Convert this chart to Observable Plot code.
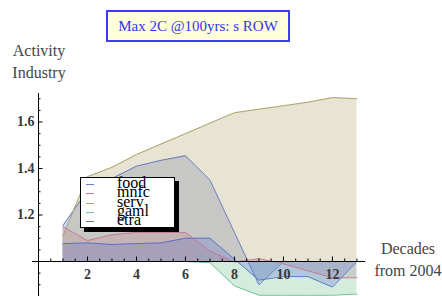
<!DOCTYPE html>
<html><head><meta charset="utf-8">
<script src="https://cdn.jsdelivr.net/npm/d3@7"></script>
<script src="https://cdn.jsdelivr.net/npm/@observablehq/plot@0.6"></script>
<style>
body{margin:0;background:#fff;}
#wrap{position:relative;width:442px;height:296px;overflow:hidden;font-family:"Liberation Serif",serif;}
.ov{position:absolute;white-space:nowrap;}
#title{left:106px;top:10px;width:184px;height:32px;box-sizing:border-box;border:2px solid #3c3cff;background:#ffffd9;color:#3434ee;font-size:15px;line-height:28px;text-align:center;}
.axl{color:#444;font-size:16px;text-align:center;line-height:22px;}
#legend{left:80px;top:177px;width:95px;height:51px;box-sizing:border-box;border:1px solid #000;background:#fff;box-shadow:4px 4px 0 #000;}
.lrow{position:absolute;left:0;height:10px;width:95px;}
.lsw{position:absolute;left:5px;top:5px;width:8px;height:1px;}
.ltx{position:absolute;left:36px;top:-5px;font-size:16px;line-height:18px;color:#000;}
</style></head><body><div id="wrap"></div>
<script>
const decades = [1,2,3,4,5,6,7,8,9,10,11,12,13];
const seriesNames = ["food","mnfc","serv","gaml","etra"];
const food = [1.155,1.305,1.357,1.41,1.435,1.455,1.35,1.125,0.90,1.0,1.0,1.0,1.0];
const mnfc = [1.15,1.09,1.115,1.125,1.125,1.125,1.045,0.997,1.012,0.99,0.96,0.93,0.93];
const serv = [1.11,1.365,1.405,1.46,1.505,1.55,1.595,1.64,1.655,1.67,1.685,1.705,1.70];
const gaml = [1.0,1.0,1.0,1.0,1.0,1.0,0.995,0.895,0.855,0.855,0.855,0.855,0.86];
const etra = [1.077,1.08,1.073,1.077,1.08,1.10,1.10,1.01,0.92,0.935,0.935,0.89,1.0];
const seriesColors = ["#6a7cc4","#c47a98","#aea46c","#6cc091","#5f73cc"];
const xMajorTicks = [2,4,6,8,10,12];
const yMajorTicks = [1.2,1.4,1.6];
const titleText = "Max 2C @100yrs: s ROW";
const yLabelLines = ["Activity","Industry"];
const xLabelLines = ["Decades","from 2004"];

const seriesValues = [food, mnfc, serv, gaml, etra];
const rows = [];
seriesNames.forEach((s, i) => decades.forEach((d, j) => rows.push({series: s, decade: d, value: seriesValues[i][j]})));

const W = 442, H = 296;
const mL = 32, mR = 77, mT = 93, mB = 0;
const xDomain = [-0.245, 13.35], yDomain = [0.8495, 1.7226];
const pxPerX = (W - mL - mR) / (xDomain[1] - xDomain[0]);
const pxPerY = (H - mT - mB) / (yDomain[1] - yDomain[0]);
const xMinor = d3.range(0.5, 13.01, 0.5).filter(v => !xMajorTicks.includes(v));
const yMinor = d3.range(0.85, 1.701, 0.05).map(v => +v.toFixed(2)).filter(v => !yMajorTicks.includes(v) && v !== 1);

const chart = Plot.plot({
  width: W, height: H,
  marginLeft: mL, marginRight: mR, marginTop: mT, marginBottom: mB,
  x: {domain: xDomain, axis: null},
  y: {domain: yDomain, axis: null},
  color: {domain: seriesNames, range: seriesColors},
  style: {background: "transparent"},
  marks: [
    Plot.areaY(rows, {x: "decade", y1: () => 1, y2: "value", z: "series", fill: "series", fillOpacity: 0.3}),
    Plot.lineY(rows, {x: "decade", y: "value", z: "series", stroke: "series", strokeWidth: 1}),
    Plot.ruleY([1], {stroke: "#000", strokeWidth: 1}),
    Plot.ruleX([0], {stroke: "#000", strokeWidth: 1}),
    Plot.ruleX(xMinor, {x: d => d, y1: () => 1, y2: () => 1 + 2.5 / pxPerY, stroke: "#000"}),
    Plot.ruleX(xMajorTicks, {x: d => d, y1: () => 1, y2: () => 1 + 4.5 / pxPerY, stroke: "#000"}),
    Plot.ruleY(yMinor, {y: d => d, x1: () => 0, x2: () => 2.5 / pxPerX, stroke: "#000"}),
    Plot.ruleY(yMajorTicks, {y: d => d, x1: () => 0, x2: () => 4.5 / pxPerX, stroke: "#000"}),
    Plot.text(xMajorTicks, {x: d => d, y: () => 1, dy: 13, text: d => String(d), fontSize: 14, fontWeight: "bold", fill: "#3a3a3a", fontFamily: "Liberation Serif"}),
    Plot.text(yMajorTicks, {x: () => 0, y: d => d, dx: -4, textAnchor: "end", text: d => d.toFixed(1), fontSize: 14, fontWeight: "bold", fill: "#3a3a3a", fontFamily: "Liberation Serif"})
  ]
});
const wrap = document.getElementById("wrap");
wrap.appendChild(chart);

const t = document.createElement("div");
t.className = "ov"; t.id = "title"; t.textContent = titleText;
wrap.appendChild(t);

const yl = document.createElement("div");
yl.className = "ov axl"; yl.style.left = "0px"; yl.style.top = "40px"; yl.style.width = "78px";
yl.innerHTML = yLabelLines.join("<br>");
wrap.appendChild(yl);

const xl = document.createElement("div");
xl.className = "ov axl"; xl.style.left = "368px"; xl.style.top = "238px"; xl.style.width = "80px";
xl.innerHTML = xLabelLines.join("<br>");
wrap.appendChild(xl);

const lg = document.createElement("div");
lg.className = "ov"; lg.id = "legend";
seriesNames.forEach((s, i) => {
  const r = document.createElement("div");
  r.className = "lrow"; r.style.top = (1 + i * 9.3) + "px";
  const sw = document.createElement("div"); sw.className = "lsw"; sw.style.background = seriesColors[i];
  const tx = document.createElement("div"); tx.className = "ltx"; tx.textContent = s;
  r.appendChild(sw); r.appendChild(tx); lg.appendChild(r);
});
wrap.appendChild(lg);
</script></body></html>
